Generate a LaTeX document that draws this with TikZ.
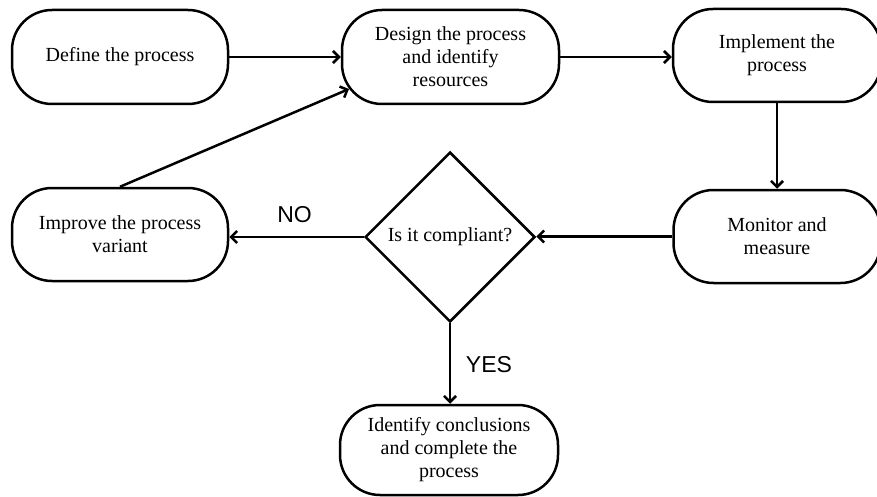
\documentclass[tikz,border=0pt]{standalone}
\usepackage{fontspec}
\setmainfont{Liberation Serif}
\newfontfamily\labelfont{Liberation Sans}
\usetikzlibrary{shapes.geometric,arrows.meta}
\begin{document}
\begin{tikzpicture}[x=1pt,y=-1pt,
  box/.style={draw, line width=2.5pt, rounded corners=40pt, align=center, inner sep=0pt,
    font=\fontsize{20}{23}\selectfont},
  decide/.style={draw, diamond, line width=2.5pt, inner sep=0pt, minimum width=170pt,
    minimum height=170pt, font=\fontsize{20}{23}\selectfont},
  arr/.style={line width=2.5pt, -{Straight Barb[length=6pt,width=12pt,line width=2.5pt]}},
  lbl/.style={font=\labelfont\fontsize{23}{26}\selectfont, inner sep=0pt, anchor=base}]
\useasboundingbox (0,0) rectangle (877,497);
\node[box, minimum width=216pt, minimum height=94pt] (define) at (120,57) {Define the process};
\node[box, minimum width=217pt, minimum height=94pt] (design) at (450.5,57) {Design the process\\and identify\\resources};
\node[box, minimum width=208pt, minimum height=93pt] (implement) at (777,55.5) {Implement the\\process};
\node[box, minimum width=207pt, minimum height=93pt] (monitor) at (777,236.5) {Monitor and\\measure};
\node[decide] (decision) at (450,237) {Is it compliant?};
\node[box, minimum width=216pt, minimum height=93pt] (improve) at (120,234.5) {Improve the process\\variant};
\node[box, minimum width=218pt, minimum height=90pt] (final) at (449,450) {Identify conclusions\\and complete the\\process};
\node[lbl] (no) at (294.5,222) {NO};
\node[lbl] (yes) at (489,372) {YES};
\coordinate (dl) at (349,89);
\draw[arr] (define.east) -- (define.east -| design.west);
\draw[arr] (design.east) -- (design.east -| implement.west);
\draw[arr] (implement.south) -- (implement.south |- monitor.north);
\draw[arr] (monitor.west) -- (monitor.west -| decision.east);
\draw[arr] (decision.west) -- (decision.west -| improve.east);
\draw[arr] (decision.south) -- (decision.south |- final.north);
\draw[arr] (improve.north) -- (dl);
\end{tikzpicture}
\end{document}
